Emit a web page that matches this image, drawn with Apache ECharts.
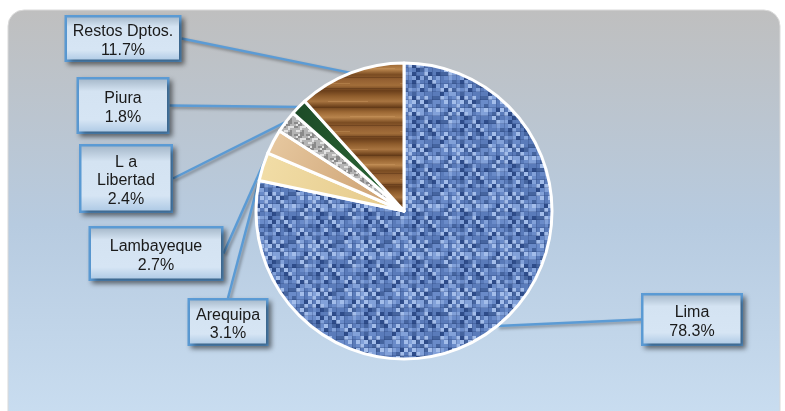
<!DOCTYPE html>
<html>
<head>
<meta charset="utf-8">
<script src="https://cdn.jsdelivr.net/npm/echarts@6/dist/echarts.min.js"></script>
<style>
html,body{margin:0;padding:0;background:#fff;}
#c{width:785px;height:411px;}
</style>
</head>
<body>
<div id="c"></div>
<script>
// ---- data ----
var categories = ['Lima', 'Arequipa', 'Lambayeque', 'L a Libertad', 'Piura', 'Restos Dptos.'];
var values = [78.3, 3.1, 2.7, 2.4, 1.8, 11.7];

// ---- label box layout (style, not data) ----
var labelBoxes = [
  {x: 692, top: 294, bottom: 345, w: 101},
  {x: 228, top: 299, bottom: 345, w: 80},
  {x: 156, top: 227, bottom: 280, w: 134},
  {x: 126, top: 145, bottom: 212, w: 93},
  {x: 123, top: 78, bottom: 133, w: 92},
  {x: 123, top: 16, bottom: 61, w: 116}
];
var LINE_H = 18.5;
var SPACER_H = 5;

function makePattern(w, h, draw) {
  var c = document.createElement('canvas');
  c.width = w; c.height = h;
  draw(c.getContext('2d'), w, h);
  return {image: c, repeat: 'repeat'};
}
// deterministic hash for texture shading
function hash(x, y) {
  var n = x * 374761393 + y * 668265263;
  n = (n ^ (n >>> 13)) * 1274126177;
  n = n ^ (n >>> 16);
  return ((n >>> 0) % 1000) / 1000;
}
var linen = makePattern(48, 48, function (g, w, h) {
  var tmp = document.createElement('canvas');
  tmp.width = w; tmp.height = h;
  var t = tmp.getContext('2d');
  var shades = ['#2e4c8a', '#45649f', '#5a7bba', '#6a8bc9', '#82a1d9', '#a3bdea'];
  for (var y = 0; y < h; y += 4) {
    for (var x = 0; x < w; x += 4) {
      var weave = ((x / 4 + y / 4) % 2 === 0) ? 0.15 : -0.1;
      var v = hash(x, y) * 0.8 + 0.1 + weave;
      var idx = Math.max(0, Math.min(shades.length - 1, Math.floor(v * shades.length)));
      t.fillStyle = shades[idx];
      t.fillRect(x, y, 4, 4);
    }
  }
  t.fillStyle = 'rgba(30,55,110,0.25)';
  for (var k = 0; k < w; k += 8) { t.fillRect(k, 0, 1, h); t.fillRect(0, k + 3, w, 1); }
  g.fillStyle = '#6384c2'; g.fillRect(0, 0, w, h);
  g.filter = 'blur(0.6px)';
  g.drawImage(tmp, 0, 0);
  g.filter = 'none';
});
var wood = makePattern(80, 48, function (g, w, h) {
  var grd = g.createLinearGradient(0, 0, 0, h);
  var bands = ['#8e5c2c', '#a87440', '#6e421c', '#9c6834', '#b8844c', '#7a4c22', '#946032', '#a26e3a', '#6a3e1a', '#8e5c2c'];
  for (var i = 0; i < bands.length; i++) grd.addColorStop(i / (bands.length - 1), bands[i]);
  g.fillStyle = grd; g.fillRect(0, 0, w, h);
  g.fillStyle = 'rgba(60,30,10,0.3)';
  g.fillRect(0, 11, w, 1); g.fillRect(0, 29, w, 1); g.fillRect(0, 40, w, 1);
  g.fillStyle = 'rgba(220,170,110,0.3)';
  g.fillRect(8, 5, 40, 1); g.fillRect(30, 20, 45, 1); g.fillRect(0, 35, 30, 1);
});
var granite = makePattern(12, 12, function (g, w, h) {
  g.fillStyle = '#b4b4b4'; g.fillRect(0, 0, w, h);
  for (var y = 0; y < h; y += 2) {
    for (var x = 0; x < w; x += 2) {
      var v = hash(x + 7, y + 3);
      g.fillStyle = v < 0.3 ? '#8a8a8a' : (v > 0.7 ? '#e2e2e2' : '#b4b4b4');
      g.fillRect(x, y, 2, 2);
    }
  }
});
var sliceColors = [
  linen,
  new echarts.graphic.LinearGradient(0, 0, 1, 1, [{offset: 0, color: '#f2dea8'}, {offset: 1, color: '#e4c888'}]),
  new echarts.graphic.LinearGradient(0, 0, 1, 1, [{offset: 0, color: '#e8caa2'}, {offset: 1, color: '#c99c6c'}]),
  granite,
  new echarts.graphic.LinearGradient(0, 0, 1, 0, [{offset: 0, color: '#1c4a26'}, {offset: 1, color: '#2e6a3a'}]),
  wood
];

var labelBg = new echarts.graphic.LinearGradient(0, 0, 0, 1, [
  {offset: 0, color: '#9fb2c4'},
  {offset: 0.25, color: '#d4e3f2'},
  {offset: 0.75, color: '#d6e5f4'},
  {offset: 1, color: '#a9c6e3'}
]);

function labelLines(name, value) {
  var lines = name.replace('L a ', 'L a\n').split('\n');
  lines.push(value.toFixed(1) + '%');
  return lines;
}

var seriesData = categories.map(function (name, i) {
  var b = labelBoxes[i];
  var nLines = labelLines(name, values[i]).length;
  var pad = Math.max(0, (b.bottom - b.top - 3 - SPACER_H - nLines * LINE_H) / 2);
  return {
    name: name,
    value: values[i],
    itemStyle: {color: sliceColors[i]},
    label: {width: b.w - 4, padding: [pad, 0, pad, 0]}
  };
});

var chart = echarts.init(document.getElementById('c'), null, {renderer: 'canvas'});
chart.setOption({
  animation: false,
  graphic: [{
    type: 'rect',
    shape: {x: 8, y: 10, width: 772, height: 430, r: 16},
    style: {
      fill: new echarts.graphic.LinearGradient(0, 0, 0, 1, [
        {offset: 0, color: '#bfbfbf'},
        {offset: 0.5, color: '#b7cbe0'},
        {offset: 1, color: '#cbdff2'}
      ]),
      stroke: '#d9d9d9', lineWidth: 1
    },
    z: -10
  }],
  series: [{
    type: 'pie',
    center: [404, 211],
    radius: 148,
    startAngle: 90,
    clockwise: true,
    avoidLabelOverlap: false,
    data: seriesData,
    itemStyle: {borderColor: '#ffffff', borderWidth: 3},
    label: {
      show: true,
      formatter: function (p) {
        return '{s| }\n' + labelLines(p.name, p.value).map(function (l) { return '{t|' + l + '}'; }).join('\n');
      },
      rich: {
        s: {fontSize: 1, lineHeight: SPACER_H, height: SPACER_H},
        t: {
          fontFamily: 'Liberation Sans, Arial, sans-serif',
          fontSize: 16,
          lineHeight: LINE_H,
          color: '#1a1a1a',
          align: 'center'
        }
      },
      align: 'center',
      verticalAlign: 'middle',
      backgroundColor: labelBg,
      borderColor: '#5b9bd5',
      borderWidth: 2.5,
      shadowColor: 'rgba(0,0,0,0.4)',
      shadowBlur: 5,
      shadowOffsetX: 3,
      shadowOffsetY: 3
    },
    labelLine: {
      show: true,
      length: 0,
      length2: 0,
      smooth: false,
      lineStyle: {color: '#5b9bd5', width: 2.5, shadowColor: 'rgba(0,0,0,0.35)', shadowBlur: 3, shadowOffsetX: 2, shadowOffsetY: 2}
    },
    labelLayout: function (p) {
      var b = labelBoxes[p.dataIndex];
      return {x: b.x, y: (b.top + b.bottom) / 2, align: 'center', verticalAlign: 'middle'};
    }
  }]
});
</script>
</body>
</html>
